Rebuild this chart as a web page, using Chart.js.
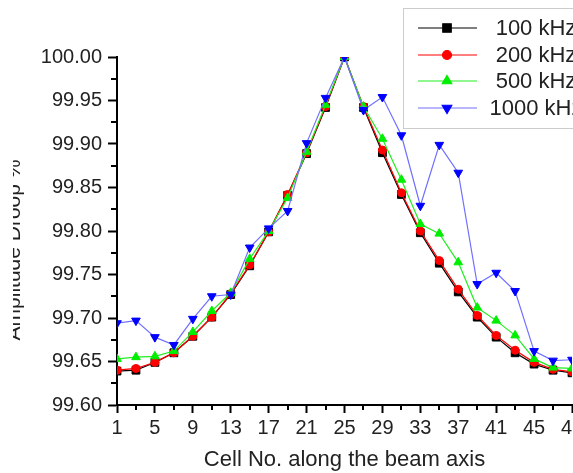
<!DOCTYPE html>
<html>
<head>
<meta charset="utf-8">
<script src="https://cdn.jsdelivr.net/npm/chart.js@4/dist/chart.umd.min.js"></script>
<style>
html,body{margin:0;padding:0;background:#fff;overflow:hidden;width:573px;height:473px;}
#wrap{position:absolute;left:0;top:0;width:640px;height:473px;}
canvas{display:block;}
</style>
</head>
<body>
<div id="wrap"><canvas id="c" width="640" height="473"></canvas></div>
<script>
const cells = [1,3,5,7,9,11,13,15,17,19,21,23,25,27,29,31,33,35,37,39,41,43,45,47,49];
const khz100 = [99.639,99.640,99.649,99.660,99.679,99.701,99.727,99.760,99.799,99.841,99.889,99.942,100.000,99.942,99.890,99.842,99.798,99.763,99.730,99.701,99.678,99.660,99.647,99.640,99.637];
const khz200 = [99.640,99.642,99.649,99.660,99.679,99.701,99.728,99.761,99.799,99.842,99.890,99.943,100.000,99.943,99.893,99.844,99.800,99.766,99.733,99.703,99.680,99.663,99.649,99.641,99.638];
const khz500 = [99.653,99.655,99.656,99.662,99.684,99.708,99.729,99.768,99.800,99.838,99.891,99.945,100.000,99.943,99.906,99.859,99.808,99.797,99.764,99.712,99.697,99.680,99.653,99.643,99.642];
const khz1000 = [99.694,99.697,99.678,99.669,99.699,99.725,99.727,99.781,99.803,99.823,99.901,99.953,100.000,99.939,99.954,99.910,99.829,99.899,99.867,99.739,99.752,99.731,99.662,99.651,99.652];
const seriesNames = ['100 kHz','200 kHz','500 kHz','1000 kHz'];
const xTitle = 'Cell No. along the beam axis';
const yTitle = 'Amplitude Droop %';

const styles = [
  {line:'#000000', pt:'#000000', style:'rect', r:5.5, rot:0, order:4},
  {line:'#ff0000', pt:'#ff0000', style:'circle', r:4, rot:0, order:3},
  {line:'#22ee22', pt:'#00ee00', style:'triangle', r:5, rot:0, order:2},
  {line:'#7070ff', pt:'#0000ff', style:'triangle', r:5, rot:180, order:1}
];
const allData = [khz100, khz200, khz500, khz1000];

const datasets = allData.map((arr,i)=>({
  label: seriesNames[i],
  data: arr.map((v,j)=>({x:cells[j], y:v})),
  borderColor: styles[i].line,
  borderWidth: 1.2,
  backgroundColor: styles[i].pt,
  pointBackgroundColor: styles[i].pt,
  pointBorderColor: styles[i].pt,
  pointBorderWidth: 1,
  pointStyle: styles[i].style,
  pointRotation: styles[i].rot,
  pointRadius: styles[i].r,
  order: styles[i].order,
  tension: 0,
  fill: false
}));

const FONT = "'Liberation Sans', Arial, sans-serif";
const isMajorY = v => Math.round(v*1000) % 50 === 0;
const isMajorX = v => (Math.round(v) - 1) % 4 === 0;

const extras = {
  id: 'extras',
  afterDraw(chart) {
    const ctx = chart.ctx;
    const xs = chart.scales.x, ys = chart.scales.y;
    const ca = chart.chartArea;
    ctx.save();
    ctx.strokeStyle = '#000';
    ctx.lineWidth = 2;
    ys.ticks.forEach(t => {
      if (!isMajorY(t.value)) {
        const y = Math.round(ys.getPixelForValue(t.value));
        ctx.beginPath(); ctx.moveTo(ca.left, y); ctx.lineTo(ca.left - 6, y); ctx.stroke();
      }
    });
    xs.ticks.forEach(t => {
      if (!isMajorX(t.value)) {
        const x = Math.round(xs.getPixelForValue(t.value));
        ctx.beginPath(); ctx.moveTo(x, ca.bottom); ctx.lineTo(x, ca.bottom + 5); ctx.stroke();
      }
    });
    ctx.restore();

    // y title (partially clipped like the reference)
    ctx.save();
    ctx.beginPath(); ctx.rect(13, 0, 200, 473); ctx.clip();
    ctx.translate(20, 250);
    ctx.rotate(-Math.PI/2);
    ctx.font = '21px ' + FONT;
    ctx.fillStyle = '#222';
    ctx.textAlign = 'center';
    ctx.textBaseline = 'alphabetic';
    ctx.fillText(yTitle, 0, 0);
    ctx.restore();

    // legend
    ctx.save();
    ctx.fillStyle = '#fff';
    ctx.fillRect(403.5, 8.5, 300, 120);
    ctx.strokeStyle = '#cccccc';
    ctx.lineWidth = 1;
    ctx.strokeRect(403.5, 8.5, 300, 120);
    const rows = [28, 55, 81, 108];
    rows.forEach((ry, i) => {
      ctx.strokeStyle = styles[i].line;
      ctx.lineWidth = 1.2;
      ctx.beginPath(); ctx.moveTo(418, ry); ctx.lineTo(477, ry); ctx.stroke();
      ctx.fillStyle = styles[i].pt;
      ctx.strokeStyle = styles[i].pt;
      Chart.helpers.drawPoint(ctx, {pointStyle: styles[i].style, radius: styles[i].r + 0.5, rotation: styles[i].rot, borderWidth: 1}, 447, ry);
      ctx.fillStyle = '#222';
      ctx.font = '22px ' + FONT;
      ctx.textAlign = 'center';
      ctx.textBaseline = 'middle';
      ctx.fillText(seriesNames[i], 536, ry + 1);
    });
    ctx.restore();
  }
};

new Chart(document.getElementById('c'), {
  type: 'line',
  data: { datasets },
  options: {
    responsive: false,
    animation: false,
    devicePixelRatio: 1,
    layout: { padding: { left: 0, right: 68, top: 57, bottom: 0 } },
    plugins: { legend: { display: false }, tooltip: { enabled: false } },
    scales: {
      x: {
        type: 'linear',
        min: 1, max: 49,
        afterFit: s => { s.height = 68; },
        grid: {
          drawOnChartArea: false, drawTicks: true, tickLength: 8, tickWidth: 2,
          tickColor: c => isMajorX(c.tick.value) ? '#000' : 'rgba(0,0,0,0)'
        },
        border: { display: true, color: '#000', width: 2 },
        ticks: {
          stepSize: 2, autoSkip: false, maxRotation: 0, minRotation: 0, padding: 3,
          color: '#222', font: { size: 20, family: FONT },
          callback: v => isMajorX(v) ? String(Math.round(v)) : ''
        },
        title: { display: true, text: xTitle, color: '#222', font: { size: 22, family: FONT }, padding: { top: 0, bottom: 0 } }
      },
      y: {
        type: 'linear',
        min: 99.6, max: 100.0,
        afterFit: s => { s.width = 117; },
        grid: {
          drawOnChartArea: false, drawTicks: true, tickLength: 9, tickWidth: 2,
          tickColor: c => isMajorY(c.tick.value) ? '#000' : 'rgba(0,0,0,0)'
        },
        border: { display: true, color: '#000', width: 2 },
        ticks: {
          stepSize: 0.025, autoSkip: false, padding: 6,
          color: '#222', font: { size: 20, family: FONT },
          callback: v => isMajorY(v) ? v.toFixed(2) : ''
        },
        title: { display: false }
      }
    }
  },
  plugins: [extras]
});
</script>
</body>
</html>
